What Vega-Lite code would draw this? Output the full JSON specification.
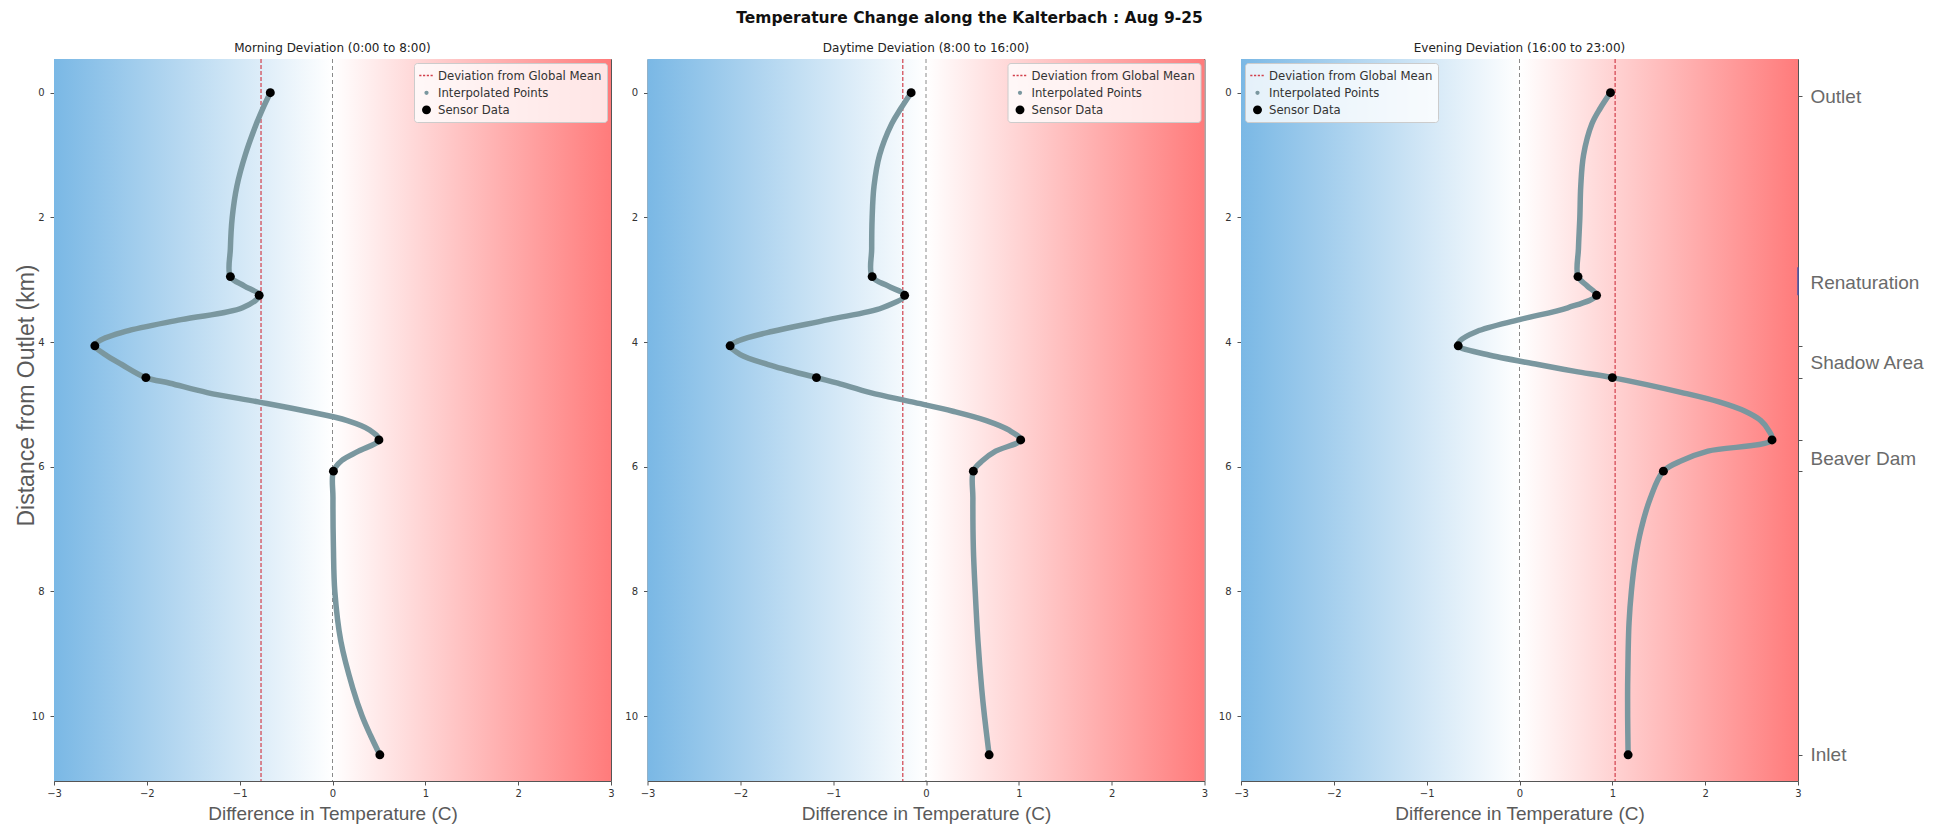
{
  "$schema": "https://vega.github.io/schema/vega-lite/v6.json",
  "background": "white",
  "padding": {"left": 14, "top": 10, "right": 5, "bottom": 2},
  "title": {"text": "Temperature Change along the Kalterbach : Aug 9-25", "font": "DejaVu Sans", "fontWeight": "bold", "fontSize": 15.5, "anchor": "middle", "offset": 15, "color": "#111"},
  "datasets": {
    "sensors": [
      {"panel": "Morning", "series": "Sensor Data", "dist": 0, "dev": -0.67},
      {"panel": "Morning", "series": "Sensor Data", "dist": 2.95, "dev": -1.10},
      {"panel": "Morning", "series": "Sensor Data", "dist": 3.25, "dev": -0.79},
      {"panel": "Morning", "series": "Sensor Data", "dist": 4.06, "dev": -2.56},
      {"panel": "Morning", "series": "Sensor Data", "dist": 4.57, "dev": -2.01},
      {"panel": "Morning", "series": "Sensor Data", "dist": 5.57, "dev": 0.50},
      {"panel": "Morning", "series": "Sensor Data", "dist": 6.07, "dev": 0.01},
      {"panel": "Morning", "series": "Sensor Data", "dist": 10.62, "dev": 0.51},
      {"panel": "Daytime", "series": "Sensor Data", "dist": 0, "dev": -0.16},
      {"panel": "Daytime", "series": "Sensor Data", "dist": 2.95, "dev": -0.58},
      {"panel": "Daytime", "series": "Sensor Data", "dist": 3.25, "dev": -0.23},
      {"panel": "Daytime", "series": "Sensor Data", "dist": 4.06, "dev": -2.11},
      {"panel": "Daytime", "series": "Sensor Data", "dist": 4.57, "dev": -1.18},
      {"panel": "Daytime", "series": "Sensor Data", "dist": 5.57, "dev": 1.02},
      {"panel": "Daytime", "series": "Sensor Data", "dist": 6.07, "dev": 0.51},
      {"panel": "Daytime", "series": "Sensor Data", "dist": 10.62, "dev": 0.68},
      {"panel": "Evening", "series": "Sensor Data", "dist": 0, "dev": 0.98},
      {"panel": "Evening", "series": "Sensor Data", "dist": 2.95, "dev": 0.63},
      {"panel": "Evening", "series": "Sensor Data", "dist": 3.25, "dev": 0.83},
      {"panel": "Evening", "series": "Sensor Data", "dist": 4.06, "dev": -0.66},
      {"panel": "Evening", "series": "Sensor Data", "dist": 4.57, "dev": 1.00},
      {"panel": "Evening", "series": "Sensor Data", "dist": 5.57, "dev": 2.72},
      {"panel": "Evening", "series": "Sensor Data", "dist": 6.07, "dev": 1.55},
      {"panel": "Evening", "series": "Sensor Data", "dist": 10.62, "dev": 1.17}
    ],
    "means": [
      {"panel": "Morning", "mean": -0.77},
      {"panel": "Daytime", "mean": -0.25},
      {"panel": "Evening", "mean": 1.03}
    ],
    "landmarks": [
      {"name": "Renaturation", "start": 2.8, "end": 3.25}
    ],
    "curve": [
      {"panel": "Morning", "dist": 0, "dev": -0.67},
      {"panel": "Morning", "dist": 0.25, "dev": -0.75},
      {"panel": "Morning", "dist": 0.5, "dev": -0.82},
      {"panel": "Morning", "dist": 1.0, "dev": -0.94},
      {"panel": "Morning", "dist": 1.5, "dev": -1.03},
      {"panel": "Morning", "dist": 2.0, "dev": -1.08},
      {"panel": "Morning", "dist": 2.5, "dev": -1.10},
      {"panel": "Morning", "dist": 2.95, "dev": -1.10},
      {"panel": "Morning", "dist": 3.1, "dev": -0.95},
      {"panel": "Morning", "dist": 3.25, "dev": -0.79},
      {"panel": "Morning", "dist": 3.45, "dev": -0.97},
      {"panel": "Morning", "dist": 3.64, "dev": -1.63},
      {"panel": "Morning", "dist": 3.83, "dev": -2.23},
      {"panel": "Morning", "dist": 3.98, "dev": -2.51},
      {"panel": "Morning", "dist": 4.06, "dev": -2.56},
      {"panel": "Morning", "dist": 4.2, "dev": -2.45},
      {"panel": "Morning", "dist": 4.36, "dev": -2.27},
      {"panel": "Morning", "dist": 4.57, "dev": -2.01},
      {"panel": "Morning", "dist": 4.66, "dev": -1.75},
      {"panel": "Morning", "dist": 4.81, "dev": -1.35},
      {"panel": "Morning", "dist": 4.96, "dev": -0.8},
      {"panel": "Morning", "dist": 5.11, "dev": -0.28},
      {"panel": "Morning", "dist": 5.26, "dev": 0.16},
      {"panel": "Morning", "dist": 5.41, "dev": 0.40},
      {"panel": "Morning", "dist": 5.57, "dev": 0.50},
      {"panel": "Morning", "dist": 5.75, "dev": 0.28},
      {"panel": "Morning", "dist": 5.9, "dev": 0.10},
      {"panel": "Morning", "dist": 6.07, "dev": 0.01},
      {"panel": "Morning", "dist": 6.5, "dev": 0.005},
      {"panel": "Morning", "dist": 7.3, "dev": 0.01},
      {"panel": "Morning", "dist": 8.0, "dev": 0.025},
      {"panel": "Morning", "dist": 8.8, "dev": 0.09},
      {"panel": "Morning", "dist": 9.56, "dev": 0.22},
      {"panel": "Morning", "dist": 10.0, "dev": 0.32},
      {"panel": "Morning", "dist": 10.31, "dev": 0.41},
      {"panel": "Morning", "dist": 10.62, "dev": 0.51},
      {"panel": "Daytime", "dist": 0, "dev": -0.16},
      {"panel": "Daytime", "dist": 0.25, "dev": -0.27},
      {"panel": "Daytime", "dist": 0.5, "dev": -0.37},
      {"panel": "Daytime", "dist": 1.0, "dev": -0.50},
      {"panel": "Daytime", "dist": 1.5, "dev": -0.56},
      {"panel": "Daytime", "dist": 2.0, "dev": -0.58},
      {"panel": "Daytime", "dist": 2.5, "dev": -0.585},
      {"panel": "Daytime", "dist": 2.95, "dev": -0.58},
      {"panel": "Daytime", "dist": 3.1, "dev": -0.41},
      {"panel": "Daytime", "dist": 3.25, "dev": -0.23},
      {"panel": "Daytime", "dist": 3.45, "dev": -0.47},
      {"panel": "Daytime", "dist": 3.64, "dev": -1.05},
      {"panel": "Daytime", "dist": 3.83, "dev": -1.66},
      {"panel": "Daytime", "dist": 3.98, "dev": -2.02},
      {"panel": "Daytime", "dist": 4.06, "dev": -2.11},
      {"panel": "Daytime", "dist": 4.2, "dev": -2.0},
      {"panel": "Daytime", "dist": 4.36, "dev": -1.7},
      {"panel": "Daytime", "dist": 4.57, "dev": -1.18},
      {"panel": "Daytime", "dist": 4.66, "dev": -0.95},
      {"panel": "Daytime", "dist": 4.81, "dev": -0.6},
      {"panel": "Daytime", "dist": 4.96, "dev": -0.15},
      {"panel": "Daytime", "dist": 5.11, "dev": 0.29},
      {"panel": "Daytime", "dist": 5.26, "dev": 0.65},
      {"panel": "Daytime", "dist": 5.41, "dev": 0.89},
      {"panel": "Daytime", "dist": 5.57, "dev": 1.02},
      {"panel": "Daytime", "dist": 5.75, "dev": 0.75},
      {"panel": "Daytime", "dist": 5.9, "dev": 0.61},
      {"panel": "Daytime", "dist": 6.07, "dev": 0.51},
      {"panel": "Daytime", "dist": 6.5, "dev": 0.505},
      {"panel": "Daytime", "dist": 7.3, "dev": 0.51},
      {"panel": "Daytime", "dist": 8.0, "dev": 0.53},
      {"panel": "Daytime", "dist": 8.8, "dev": 0.56},
      {"panel": "Daytime", "dist": 9.56, "dev": 0.60},
      {"panel": "Daytime", "dist": 10.0, "dev": 0.63},
      {"panel": "Daytime", "dist": 10.62, "dev": 0.68},
      {"panel": "Evening", "dist": 0, "dev": 0.98},
      {"panel": "Evening", "dist": 0.25, "dev": 0.87},
      {"panel": "Evening", "dist": 0.5, "dev": 0.78},
      {"panel": "Evening", "dist": 1.0, "dev": 0.69},
      {"panel": "Evening", "dist": 1.5, "dev": 0.66},
      {"panel": "Evening", "dist": 2.0, "dev": 0.65},
      {"panel": "Evening", "dist": 2.5, "dev": 0.635},
      {"panel": "Evening", "dist": 2.95, "dev": 0.63},
      {"panel": "Evening", "dist": 3.1, "dev": 0.73},
      {"panel": "Evening", "dist": 3.25, "dev": 0.83},
      {"panel": "Evening", "dist": 3.45, "dev": 0.52},
      {"panel": "Evening", "dist": 3.64, "dev": 0.0},
      {"panel": "Evening", "dist": 3.83, "dev": -0.46},
      {"panel": "Evening", "dist": 3.98, "dev": -0.64},
      {"panel": "Evening", "dist": 4.06, "dev": -0.66},
      {"panel": "Evening", "dist": 4.2, "dev": -0.35},
      {"panel": "Evening", "dist": 4.36, "dev": 0.2},
      {"panel": "Evening", "dist": 4.47, "dev": 0.6},
      {"panel": "Evening", "dist": 4.57, "dev": 1.0},
      {"panel": "Evening", "dist": 4.81, "dev": 1.75},
      {"panel": "Evening", "dist": 4.96, "dev": 2.15},
      {"panel": "Evening", "dist": 5.11, "dev": 2.43},
      {"panel": "Evening", "dist": 5.26, "dev": 2.6},
      {"panel": "Evening", "dist": 5.41, "dev": 2.68},
      {"panel": "Evening", "dist": 5.57, "dev": 2.72},
      {"panel": "Evening", "dist": 5.75, "dev": 2.03},
      {"panel": "Evening", "dist": 5.9, "dev": 1.75},
      {"panel": "Evening", "dist": 6.07, "dev": 1.55},
      {"panel": "Evening", "dist": 6.5, "dev": 1.41},
      {"panel": "Evening", "dist": 7.0, "dev": 1.31},
      {"panel": "Evening", "dist": 7.5, "dev": 1.245},
      {"panel": "Evening", "dist": 8.0, "dev": 1.205},
      {"panel": "Evening", "dist": 8.5, "dev": 1.18},
      {"panel": "Evening", "dist": 9.0, "dev": 1.17},
      {"panel": "Evening", "dist": 9.5, "dev": 1.165},
      {"panel": "Evening", "dist": 10.0, "dev": 1.165},
      {"panel": "Evening", "dist": 10.62, "dev": 1.17}
    ]
  },
  "spacing": 36.5,
  "bounds": "flush",
  "resolve": {"scale": {"color": "independent", "shape": "independent", "size": "independent"}},
  "hconcat": [
    {
      "title": {"text": "Morning Deviation (0:00 to 8:00)"},
      "width": 557, "height": 722,
      "layer": [
        {
          "data": {"values": [{}]},
          "mark": {"type": "rect", "fill": {"gradient": "linear", "stops": [{"offset": 0, "color": "#7ab8e5"}, {"offset": 0.5, "color": "#ffffff"}, {"offset": 1, "color": "#ff7b7b"}]}},
          "encoding": {
            "x": {"datum": -3, "type": "quantitative", "scale": {"domain": [-3, 3], "nice": false, "zero": false}, "axis": {"values": [-3, -2, -1, 0, 1, 2, 3], "format": "d", "title": "Difference in Temperature (C)"}},
            "x2": {"datum": 3},
            "y": {"datum": -0.54, "type": "quantitative", "scale": {"domain": [-0.54, 11.04], "nice": false, "zero": false, "reverse": true}, "axis": {"values": [0, 2, 4, 6, 8, 10], "format": "d", "title": "Distance from Outlet (km)", "titleFontSize": 23, "titlePadding": 2, "titleY": 336, "minExtent": 14, "maxExtent": 14}},
            "y2": {"datum": 11.04}
          }
        },
        {
          "data": {"values": [{}]},
          "mark": {"type": "rule", "color": "#8a8a8a", "strokeDash": [4, 3], "strokeWidth": 1},
          "encoding": {"x": {"datum": 0, "type": "quantitative"}}
        },
        {
          "data": {"name": "means"},
          "transform": [{"filter": "datum.panel == 'Morning'"}],
          "mark": {"type": "rule", "color": "#d2404c", "strokeDash": [4, 2], "strokeWidth": 1.2},
          "encoding": {"x": {"field": "mean", "type": "quantitative"}}
        },
        {
          "data": {"name": "curve"},
          "transform": [{"filter": "datum.panel == 'Morning'"}],
          "mark": {"type": "line", "color": "#7a979f", "strokeWidth": 5.5, "interpolate": "catmull-rom", "strokeCap": "round"},
          "encoding": {
            "x": {"field": "dev", "type": "quantitative"},
            "y": {"field": "dist", "type": "quantitative"},
            "order": {"field": "dist", "type": "quantitative"}
          }
        },
        {
          "data": {"name": "sensors"},
          "transform": [{"filter": "datum.panel == 'Morning'"}],
          "mark": {"type": "point", "filled": true, "opacity": 1},
          "encoding": {
            "x": {"field": "dev", "type": "quantitative"},
            "y": {"field": "dist", "type": "quantitative"},
            "color": {"field": "series", "type": "nominal", "scale": {"domain": ["Deviation from Global Mean", "Interpolated Points", "Sensor Data"], "range": ["#d2404c", "#7a979f", "#000000"]}, "legend": {"orient": "top-right"}},
            "shape": {"field": "series", "type": "nominal", "scale": {"domain": ["Deviation from Global Mean", "Interpolated Points", "Sensor Data"], "range": ["M-1,-0.1H-0.7V0.1H-1Z M-0.48,-0.1H-0.18V0.1H-0.48Z M0.04,-0.1H0.34V0.1H0.04Z M0.56,-0.1H0.86V0.1H0.56Z", "circle", "circle"]}, "legend": {"orient": "top-right"}},
            "size": {"field": "series", "type": "nominal", "scale": {"type": "ordinal", "domain": ["Deviation from Global Mean", "Interpolated Points", "Sensor Data"], "range": [210, 18, 80]}, "legend": {"orient": "top-right"}}
          }
        }
      ]
    },
    {
      "title": {"text": "Daytime Deviation (8:00 to 16:00)"},
      "width": 557, "height": 722,
      "layer": [
        {
          "data": {"values": [{}]},
          "mark": {"type": "rect", "fill": {"gradient": "linear", "stops": [{"offset": 0, "color": "#7ab8e5"}, {"offset": 0.5, "color": "#ffffff"}, {"offset": 1, "color": "#ff7b7b"}]}},
          "encoding": {
            "x": {"datum": -3, "type": "quantitative", "scale": {"domain": [-3, 3], "nice": false, "zero": false}, "axis": {"values": [-3, -2, -1, 0, 1, 2, 3], "format": "d", "title": "Difference in Temperature (C)"}},
            "x2": {"datum": 3},
            "y": {"datum": -0.54, "type": "quantitative", "scale": {"domain": [-0.54, 11.04], "nice": false, "zero": false, "reverse": true}, "axis": {"values": [0, 2, 4, 6, 8, 10], "format": "d", "title": null}},
            "y2": {"datum": 11.04}
          }
        },
        {
          "data": {"values": [{}]},
          "mark": {"type": "rule", "color": "#8a8a8a", "strokeDash": [4, 3], "strokeWidth": 1},
          "encoding": {"x": {"datum": 0, "type": "quantitative"}}
        },
        {
          "data": {"name": "means"},
          "transform": [{"filter": "datum.panel == 'Daytime'"}],
          "mark": {"type": "rule", "color": "#d2404c", "strokeDash": [4, 2], "strokeWidth": 1.2},
          "encoding": {"x": {"field": "mean", "type": "quantitative"}}
        },
        {
          "data": {"name": "curve"},
          "transform": [{"filter": "datum.panel == 'Daytime'"}],
          "mark": {"type": "line", "color": "#7a979f", "strokeWidth": 5.5, "interpolate": "catmull-rom", "strokeCap": "round"},
          "encoding": {
            "x": {"field": "dev", "type": "quantitative"},
            "y": {"field": "dist", "type": "quantitative"},
            "order": {"field": "dist", "type": "quantitative"}
          }
        },
        {
          "data": {"name": "sensors"},
          "transform": [{"filter": "datum.panel == 'Daytime'"}],
          "mark": {"type": "point", "filled": true, "opacity": 1},
          "encoding": {
            "x": {"field": "dev", "type": "quantitative"},
            "y": {"field": "dist", "type": "quantitative"},
            "color": {"field": "series", "type": "nominal", "scale": {"domain": ["Deviation from Global Mean", "Interpolated Points", "Sensor Data"], "range": ["#d2404c", "#7a979f", "#000000"]}, "legend": {"orient": "top-right"}},
            "shape": {"field": "series", "type": "nominal", "scale": {"domain": ["Deviation from Global Mean", "Interpolated Points", "Sensor Data"], "range": ["M-1,-0.1H-0.7V0.1H-1Z M-0.48,-0.1H-0.18V0.1H-0.48Z M0.04,-0.1H0.34V0.1H0.04Z M0.56,-0.1H0.86V0.1H0.56Z", "circle", "circle"]}, "legend": {"orient": "top-right"}},
            "size": {"field": "series", "type": "nominal", "scale": {"type": "ordinal", "domain": ["Deviation from Global Mean", "Interpolated Points", "Sensor Data"], "range": [210, 18, 80]}, "legend": {"orient": "top-right"}}
          }
        }
      ]
    },
    {
      "title": {"text": "Evening Deviation (16:00 to 23:00)"},
      "width": 557, "height": 722,
      "resolve": {"axis": {"y": "independent"}},
      "layer": [
        {
          "data": {"values": [{}]},
          "mark": {"type": "rect", "fill": {"gradient": "linear", "stops": [{"offset": 0, "color": "#7ab8e5"}, {"offset": 0.5, "color": "#ffffff"}, {"offset": 1, "color": "#ff7b7b"}]}},
          "encoding": {
            "x": {"datum": -3, "type": "quantitative", "scale": {"domain": [-3, 3], "nice": false, "zero": false}, "axis": {"values": [-3, -2, -1, 0, 1, 2, 3], "format": "d", "title": "Difference in Temperature (C)"}},
            "x2": {"datum": 3},
            "y": {"datum": -0.54, "type": "quantitative", "scale": {"domain": [-0.54, 11.04], "nice": false, "zero": false, "reverse": true}, "axis": {"values": [0, 2, 4, 6, 8, 10], "format": "d", "title": null, "orient": "left"}},
            "y2": {"datum": 11.04}
          }
        },
        {
          "data": {"values": [{}]},
          "mark": {"type": "rule", "color": "#8a8a8a", "strokeDash": [4, 3], "strokeWidth": 1},
          "encoding": {"x": {"datum": 0, "type": "quantitative"}}
        },
        {
          "data": {"name": "means"},
          "transform": [{"filter": "datum.panel == 'Evening'"}],
          "mark": {"type": "rule", "color": "#d2404c", "strokeDash": [4, 2], "strokeWidth": 1.2},
          "encoding": {"x": {"field": "mean", "type": "quantitative"}}
        },
        {
          "data": {"name": "curve"},
          "transform": [{"filter": "datum.panel == 'Evening'"}],
          "mark": {"type": "line", "color": "#7a979f", "strokeWidth": 5.5, "interpolate": "catmull-rom", "strokeCap": "round"},
          "encoding": {
            "x": {"field": "dev", "type": "quantitative"},
            "y": {"field": "dist", "type": "quantitative", "axis": null},
            "order": {"field": "dist", "type": "quantitative"}
          }
        },
        {
          "data": {"name": "sensors"},
          "transform": [{"filter": "datum.panel == 'Evening'"}],
          "mark": {"type": "point", "filled": true, "opacity": 1},
          "encoding": {
            "x": {"field": "dev", "type": "quantitative"},
            "y": {"field": "dist", "type": "quantitative", "axis": null},
            "color": {"field": "series", "type": "nominal", "scale": {"domain": ["Deviation from Global Mean", "Interpolated Points", "Sensor Data"], "range": ["#d2404c", "#7a979f", "#000000"]}, "legend": {"orient": "top-left"}},
            "shape": {"field": "series", "type": "nominal", "scale": {"domain": ["Deviation from Global Mean", "Interpolated Points", "Sensor Data"], "range": ["M-1,-0.1H-0.7V0.1H-1Z M-0.48,-0.1H-0.18V0.1H-0.48Z M0.04,-0.1H0.34V0.1H0.04Z M0.56,-0.1H0.86V0.1H0.56Z", "circle", "circle"]}, "legend": {"orient": "top-left"}},
            "size": {"field": "series", "type": "nominal", "scale": {"type": "ordinal", "domain": ["Deviation from Global Mean", "Interpolated Points", "Sensor Data"], "range": [210, 18, 80]}, "legend": {"orient": "top-left"}}
          }
        },
        {
          "data": {"name": "landmarks"},
          "mark": {"type": "rule", "color": "#4a55a8", "strokeWidth": 1.5},
          "encoding": {
            "x": {"datum": 3, "type": "quantitative"},
            "y": {"field": "start", "type": "quantitative", "axis": {
              "orient": "right", "title": null,
              "values": [0.06, 3.05, 4.06, 4.33, 4.57, 5.57, 5.87, 6.07, 10.62],
              "labelExpr": "datum.value == 0.06 ? 'Outlet' : datum.value == 3.05 ? 'Renaturation' : datum.value == 4.33 ? 'Shadow Area' : datum.value == 5.87 ? 'Beaver Dam' : datum.value == 10.62 ? 'Inlet' : ''",
              "labelFont": "Liberation Sans", "labelFontSize": 19, "labelColor": "#6a6a6a", "labelPadding": 8, "labelOverlap": false, "labelBound": false,
              "tickOpacity": {"condition": {"test": "datum.value == 3.05 || datum.value == 4.33 || datum.value == 5.87", "value": 0}, "value": 1}
            }},
            "y2": {"field": "end"}
          }
        }
      ]
    }
  ],
  "config": {
    "view": {"stroke": "#555555", "strokeWidth": 1},
    "axis": {"grid": false, "domain": false, "labelFont": "DejaVu Sans", "labelFontSize": 10, "labelColor": "#333333", "tickColor": "#555555", "tickSize": 4, "titleFont": "Liberation Sans", "titleFontWeight": "normal", "titleColor": "#5a5a5a", "titleFontSize": 19, "labelFlush": false},
    "axisX": {"labelPadding": 3, "titlePadding": 6},
    "axisY": {"labelPadding": 6, "titlePadding": 4},
    "legend": {"title": null, "labelFont": "DejaVu Sans", "labelFontSize": 11.7, "labelLimit": 400, "labelColor": "#333333", "fillColor": "rgba(255,255,255,0.8)", "strokeColor": "#cccccc", "cornerRadius": 3, "padding": 5, "rowPadding": 4, "offset": 4, "symbolStrokeWidth": 0},
    "title": {"font": "DejaVu Sans", "fontWeight": "normal", "fontSize": 12, "color": "#222222", "offset": 3.5}
  }
}
